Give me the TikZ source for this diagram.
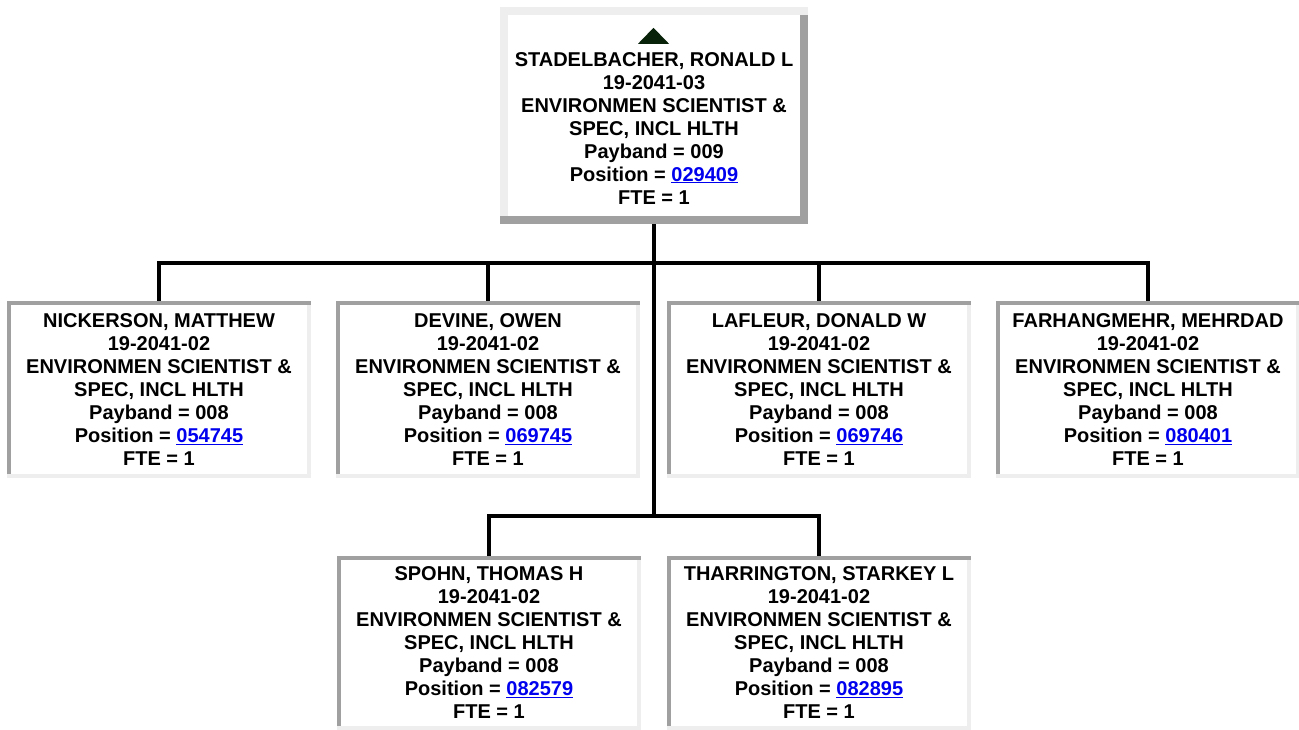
\documentclass[tikz,border=0pt]{standalone}
\usepackage{fontspec}
\setmainfont{Liberation Sans}
\usepackage{xcolor}
\usepackage{tikz}
\usetikzlibrary{positioning, calc}
\definecolor{EdgeDark}{RGB}{160,160,160}
\definecolor{EdgeLight}{RGB}{238,238,238}
\definecolor{LinkBlue}{RGB}{0,0,238}
\definecolor{TriGreen}{RGB}{8,34,10}
\newcommand{\poslink}[1]{\textcolor{LinkBlue}{\underline{#1}}}
\tikzset{
  orgtext/.style={font=\fontsize{20}{23}\selectfont\bfseries, align=center, inner sep=0pt},
  childbox/.style={orgtext, minimum width=304pt, minimum height=177pt, fill=EdgeLight,
    path picture={
      \fill[EdgeDark] (path picture bounding box.north west) rectangle ([yshift=-4pt]path picture bounding box.north east);
      \fill[EdgeDark] (path picture bounding box.north west) rectangle ([shift={(4pt,4pt)}]path picture bounding box.south west);
      \fill[white] ([shift={(4pt,-4pt)}]path picture bounding box.north west) rectangle ([shift={(-4pt,4pt)}]path picture bounding box.south east);
    }},
  bossbox/.style={orgtext, minimum width=308pt, minimum height=217pt, fill=EdgeDark,
    path picture={
      \fill[EdgeLight] (path picture bounding box.north west) rectangle ([yshift=-8pt]path picture bounding box.north east);
      \fill[EdgeLight] (path picture bounding box.north west) rectangle ([shift={(8pt,8pt)}]path picture bounding box.south west);
      \fill[white] ([shift={(8pt,-8pt)}]path picture bounding box.north west) rectangle ([shift={(-8pt,8pt)}]path picture bounding box.south east);
    }},
  conn/.style={line width=4pt, black},
}

\begin{document}
\begin{tikzpicture}[x=1pt, y=-1pt]
    \useasboundingbox (0,0) rectangle (1299,730);
    \node[bossbox] (boss) at (654,115.5) {\strut\\STADELBACHER, RONALD L\\19-2041-03\\ENVIRONMEN SCIENTIST \&\\SPEC, INCL HLTH\\Payband = 009\\Position = \poslink{029409}\\FTE = 1};
    \fill[TriGreen] ($(boss.north)+(-16,37)$) -- ++(31,0) -- ++(-15.5,-16) -- cycle;
    % first row
    \node[childbox] (nick) at (159,389.5) {NICKERSON, MATTHEW\\19-2041-02\\ENVIRONMEN SCIENTIST \&\\SPEC, INCL HLTH\\Payband = 008\\Position = \poslink{054745}\\FTE = 1};
    \node[childbox] (devine) at (488,389.5) {DEVINE, OWEN\\19-2041-02\\ENVIRONMEN SCIENTIST \&\\SPEC, INCL HLTH\\Payband = 008\\Position = \poslink{069745}\\FTE = 1};
    \node[childbox] (lafleur) at (819,389.5) {LAFLEUR, DONALD W\\19-2041-02\\ENVIRONMEN SCIENTIST \&\\SPEC, INCL HLTH\\Payband = 008\\Position = \poslink{069746}\\FTE = 1};
    \node[childbox] (farhang) at (1148,389.5) {FARHANGMEHR, MEHRDAD\\19-2041-02\\ENVIRONMEN SCIENTIST \&\\SPEC, INCL HLTH\\Payband = 008\\Position = \poslink{080401}\\FTE = 1};
    % second row
    \node[childbox, minimum height=174pt] (spohn) at (489,643) {SPOHN, THOMAS H\\19-2041-02\\ENVIRONMEN SCIENTIST \&\\SPEC, INCL HLTH\\Payband = 008\\Position = \poslink{082579}\\FTE = 1};
    \node[childbox, minimum height=174pt] (tharr) at (819,643) {THARRINGTON, STARKEY L\\19-2041-02\\ENVIRONMEN SCIENTIST \&\\SPEC, INCL HLTH\\Payband = 008\\Position = \poslink{082895}\\FTE = 1};
    \coordinate (fork) at ($(boss.south)+(0,39)$);
    \coordinate (fork2) at ($(boss.south)+(0,292)$);
    \draw[conn] (boss.south) -- (fork2);
    \foreach \c in {nick,devine,lafleur,farhang}
      \draw[conn] (fork) -| (\c.north);
    \foreach \c in {spohn,tharr}
      \draw[conn] (fork2) -| (\c.north);
\end{tikzpicture}
\end{document}
